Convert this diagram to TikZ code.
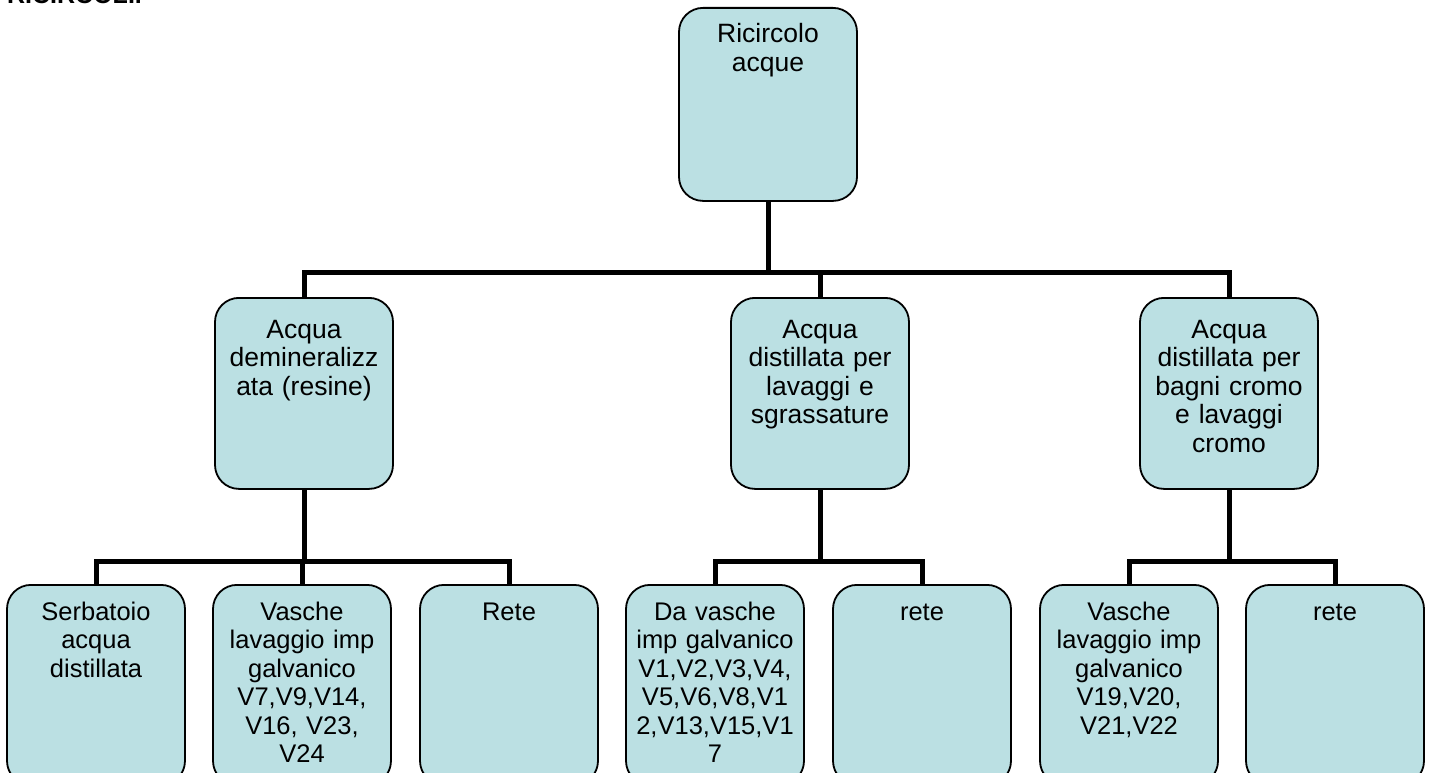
\documentclass[tikz,border=0pt]{standalone}
\usepackage{fontspec}
\setmainfont{Liberation Sans}
\definecolor{boxfill}{RGB}{187,224,227}
\begin{document}
\begin{tikzpicture}[x=1pt,y=-1pt,
  box/.style={draw=black, line width=1.8pt, fill=boxfill, rounded corners=24pt,
    minimum width=178pt, inner sep=0pt, anchor=north},
  lbl/.style={font=\fontsize{25.5}{28.5}\selectfont, align=center, text width=176pt,
    anchor=base, inner sep=0pt},
  biglbl/.style={lbl, font=\fontsize{26.5}{28.5}\selectfont},
  conn/.style={draw=black, line width=5pt, line join=miter}]
\useasboundingbox (0,0) rectangle (1433,773);
\clip (0,0) rectangle (1433,773);
\fill[white] (0,0) rectangle (1433,773);
\node[font=\bfseries\fontsize{25}{28}\selectfont, anchor=base west, inner sep=0pt] (title) at (7,4) {RICIRCOLI.};

% root
\node[box, minimum height=193pt] (r) at (768,7) {};
\node[biglbl] (rt) at ([yshift=-36]r.north) {Ricircolo\\acque};

% level 1
\node[box, minimum height=191pt] (a) at (304,297) {};
\node[biglbl] (at) at ([yshift=-41]a.north) {Acqua\\demineralizz\\ata (resine)};
\node[box, minimum height=191pt] (b) at (820,297) {};
\node[biglbl] (bt) at ([yshift=-41]b.north) {Acqua\\distillata per\\lavaggi e\\sgrassature};
\node[box, minimum height=191pt] (c) at (1229,297) {};
\node[biglbl] (ct) at ([yshift=-41]c.north) {Acqua\\distillata per\\bagni cromo\\e lavaggi\\cromo};

% level 2
\node[box, minimum height=200pt] (a1) at (96,584) {};
\node[lbl] (a1t) at ([yshift=-36]a1.north) {Serbatoio\\acqua\\distillata};
\node[box, minimum height=200pt] (a2) at (302,584) {};
\node[lbl] (a2t) at ([yshift=-36]a2.north) {Vasche\\lavaggio imp\\galvanico\\V7,V9,V14,\\V16, V23,\\V24};
\node[box, minimum height=200pt] (a3) at (509,584) {};
\node[lbl] (a3t) at ([yshift=-36]a3.north) {Rete};
\node[box, minimum height=200pt] (b1) at (715,584) {};
\node[lbl] (b1t) at ([yshift=-36]b1.north) {Da vasche\\imp galvanico\\V1,V2,V3,V4,\\V5,V6,V8,V1\\2,V13,V15,V1\\7};
\node[box, minimum height=200pt] (b2) at (922,584) {};
\node[lbl] (b2t) at ([yshift=-36]b2.north) {rete};
\node[box, minimum height=200pt] (c1) at (1129,584) {};
\node[lbl] (c1t) at ([yshift=-36]c1.north) {Vasche\\lavaggio imp\\galvanico\\V19,V20,\\V21,V22};
\node[box, minimum height=200pt] (c2) at (1335,584) {};
\node[lbl] (c2t) at ([yshift=-36]c2.north) {rete};

% connectors
\coordinate (j0) at (768,272);
\coordinate (ja) at (304,561);
\coordinate (jb) at (820,561);
\coordinate (jc) at (1229,561);
\draw[conn] (r.south) -- (j0);
\draw[conn] (a.north) |- (j0) -| (c.north);
\draw[conn] (b.north |- j0) -- (b.north);

\draw[conn] (a.south) -- (ja);
\draw[conn] (a1.north) |- (ja) -| (a3.north);
\draw[conn] (a2.north |- ja) -- (a2.north);

\draw[conn] (b.south) -- (jb);
\draw[conn] (b1.north) |- (jb) -| (b2.north);

\draw[conn] (c.south) -- (jc);
\draw[conn] (c1.north) |- (jc) -| (c2.north);
\end{tikzpicture}
\end{document}
